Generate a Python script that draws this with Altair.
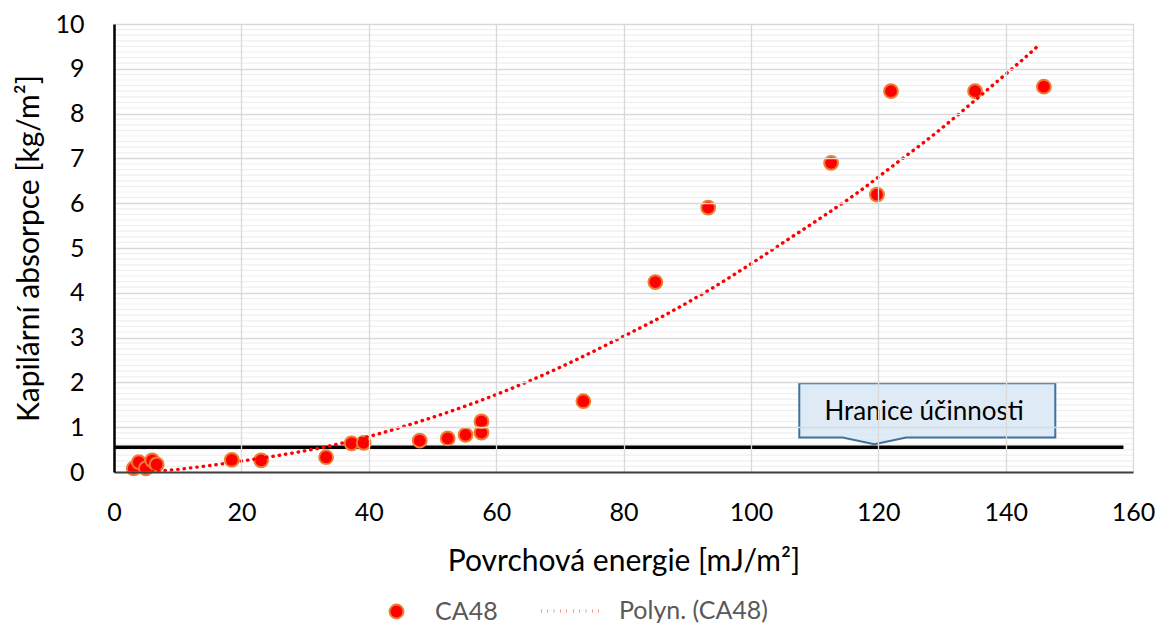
import altair as alt
import pandas as pd

# ---- data ----
energy = [3.1, 3.9, 5.0, 6.0, 6.7, 18.5, 23.1, 33.3, 37.3, 39.2,
          48.0, 52.4, 55.2, 57.7, 57.7, 73.7, 85.0, 93.3, 112.6, 119.8,
          122.0, 135.2, 146.0]
absorption = [0.08, 0.22, 0.08, 0.26, 0.17, 0.27, 0.26, 0.33, 0.64, 0.65,
              0.70, 0.75, 0.83, 0.88, 1.13, 1.58, 4.24, 5.90, 6.90, 6.19,
              8.50, 8.50, 8.60]
series_pts = "CA48"

# polynomial trend line
trend_x = [6.0, 7.7, 13.1, 20.8, 27.9, 32.8, 40.2, 48.5, 56.9, 64.7, 72.5,
           79.6, 87.5, 94.0, 99.5, 105.5, 111.8, 117.0, 123.0, 128.0, 131.9,
           134.8, 137.7, 140.5, 142.4, 145.3]
trend_y = [0.02, 0.03, 0.11, 0.26, 0.42, 0.55, 0.80, 1.15, 1.56, 2.00, 2.50,
           3.00, 3.58, 4.11, 4.60, 5.16, 5.75, 6.26, 6.91, 7.45, 7.90,
           8.25, 8.60, 8.94, 9.17, 9.54]
series_fit = "Polyn. (CA48)"

limit_value = 0.55          # "Hranice účinnosti" threshold
limit_x = [0, 158.5]
callout_text = "Hranice účinnosti"
callout_box_x = [107.6, 147.8]
callout_box_y = [0.77, 1.98]
callout_notch_x = [114.4, 119.4, 124.4]
callout_notch_y = [0.77, 0.62, 0.77]
callout_text_pos = (127.2, 1.33)

x_ticks = [0, 20, 40, 60, 80, 100, 120, 140, 160]
y_ticks = [0, 1, 2, 3, 4, 5, 6, 7, 8, 9, 10]
y_minor = [i * 0.125 for i in range(81) if i % 8 != 0]

FONT = "Lato"

df = pd.DataFrame({"x": energy, "y": absorption, "s": series_pts})
tdf = pd.DataFrame({"x": trend_x, "y": trend_y, "s2": series_fit})

xs = alt.Scale(domain=[0, 160], nice=False, zero=False)
ys = alt.Scale(domain=[0, 10], nice=False)

minor = alt.Chart(pd.DataFrame({"y": y_minor})).mark_rule(
    color="#efefef", strokeWidth=1.2).encode(y=alt.Y("y:Q", scale=ys))

points = alt.Chart(df).mark_circle(size=190, opacity=1, stroke="#ED7D31",
                                   strokeWidth=2).encode(
    x=alt.X("x:Q", scale=xs, title="Povrchová energie [mJ/m²]",
            axis=alt.Axis(values=x_ticks, grid=True, gridColor="#d9d9d9",
                          gridWidth=1.3, ticks=False, domainColor="#404040",
                          domainWidth=2, labelPadding=28, titlePadding=21,
                          labelFlush=False, labelFontSize=25, titleFontSize=30,
                          zindex=1)),
    y=alt.Y("y:Q", scale=ys, title="Kapilární absorpce [kg/m²]",
            axis=alt.Axis(values=y_ticks, grid=True, ticks=False,
                          gridColor="#d9d9d9", gridWidth=1.3,
                          labelFlush=False, domainColor="#000000",
                          domainWidth=2.5, labelPadding=30, titlePadding=10,
                          labelFontSize=25, titleFontSize=30, zindex=1)),
    color=alt.Color("s:N", scale=alt.Scale(domain=[series_pts], range=["#FF0000"]),
                    legend=alt.Legend(title=None, orient="none", legendX=270,
                                      legendY=575, symbolType="circle",
                                      symbolSize=190, symbolStrokeColor="#ED7D31",
                                      symbolStrokeWidth=2, labelOffset=26,
                                      labelFontSize=25, labelColor="#595959",
                                      labelFont=FONT)),
)

trend = alt.Chart(tdf).mark_line(color="#FF0000", strokeWidth=3.4, strokeCap="round",
                                 interpolate="monotone").encode(
    x=alt.X("x:Q", scale=xs),
    y=alt.Y("y:Q", scale=ys),
    strokeDash=alt.StrokeDash("s2:N", scale=alt.Scale(domain=[series_fit], range=[[0.4, 6]]),
                              legend=alt.Legend(title=None, orient="none", legendX=425,
                                                legendY=555, symbolType="stroke",
                                                symbolSize=3600, symbolStrokeColor="#FF0000",
                                                symbolStrokeWidth=3.6, symbolDash=[3, 3.3],
                                                symbolOpacity=1, labelOffset=16,
                                                labelFontSize=25, labelColor="#595959",
                                                labelFont=FONT)),
)

limit_df = pd.DataFrame({"x": [limit_x[0]], "x2": [limit_x[1]], "y": [limit_value]})
limit = alt.Chart(limit_df).mark_rule(color="#000000", strokeWidth=3.5).encode(
    x=alt.X("x:Q", scale=xs), x2="x2:Q", y=alt.Y("y:Q", scale=ys))

box_df = pd.DataFrame({"x": [callout_box_x[0]], "x2": [callout_box_x[1]],
                       "y": [callout_box_y[0]], "y2": [callout_box_y[1]]})
box = alt.Chart(box_df).mark_rect(fill="#DEEBF7").encode(
    x=alt.X("x:Q", scale=xs), x2="x2:Q", y=alt.Y("y:Q", scale=ys), y2="y2:Q")

notch_df = pd.DataFrame({"x": callout_notch_x, "y": callout_notch_y,
                         "y2": [callout_box_y[0]] * 3})
notch = alt.Chart(notch_df).mark_area(fill="#DEEBF7").encode(
    x=alt.X("x:Q", scale=xs), y=alt.Y("y:Q", scale=ys), y2="y2:Q")

bx0, bx1 = callout_box_x
by0, by1 = callout_box_y
outline_df = pd.DataFrame({
    "x": [callout_notch_x[2], bx1, bx1, bx0, bx0, callout_notch_x[0],
          callout_notch_x[1], callout_notch_x[2]],
    "y": [by0, by0, by1, by1, by0, by0, callout_notch_y[1], by0],
    "i": list(range(8)),
})
outline = alt.Chart(outline_df).mark_line(color="#41719C", strokeWidth=2).encode(
    x=alt.X("x:Q", scale=xs), y=alt.Y("y:Q", scale=ys), order="i:Q")

text_df = pd.DataFrame({"x": [callout_text_pos[0]], "y": [callout_text_pos[1]],
                        "t": [callout_text]})
label = alt.Chart(text_df).mark_text(font=FONT, fontSize=26, color="#000000",
                                     align="center", baseline="middle").encode(
    x=alt.X("x:Q", scale=xs), y=alt.Y("y:Q", scale=ys), text="t:N")

chart = alt.layer(minor, limit, points, trend, box, notch, outline, label).properties(
    width=1019, height=448,
    autosize=alt.AutoSizeParams(type="none"),
    padding={"left": 106, "top": 16, "right": 24, "bottom": 153},
).configure_axis(
    labelFont=FONT, titleFont=FONT,
    labelColor="#000000", titleColor="#000000", titleFontWeight="normal",
).configure_view(stroke=None).configure_legend(
    labelFont=FONT
)

chart.save("out.html", embed_options={"renderer": "svg", "actions": False})
